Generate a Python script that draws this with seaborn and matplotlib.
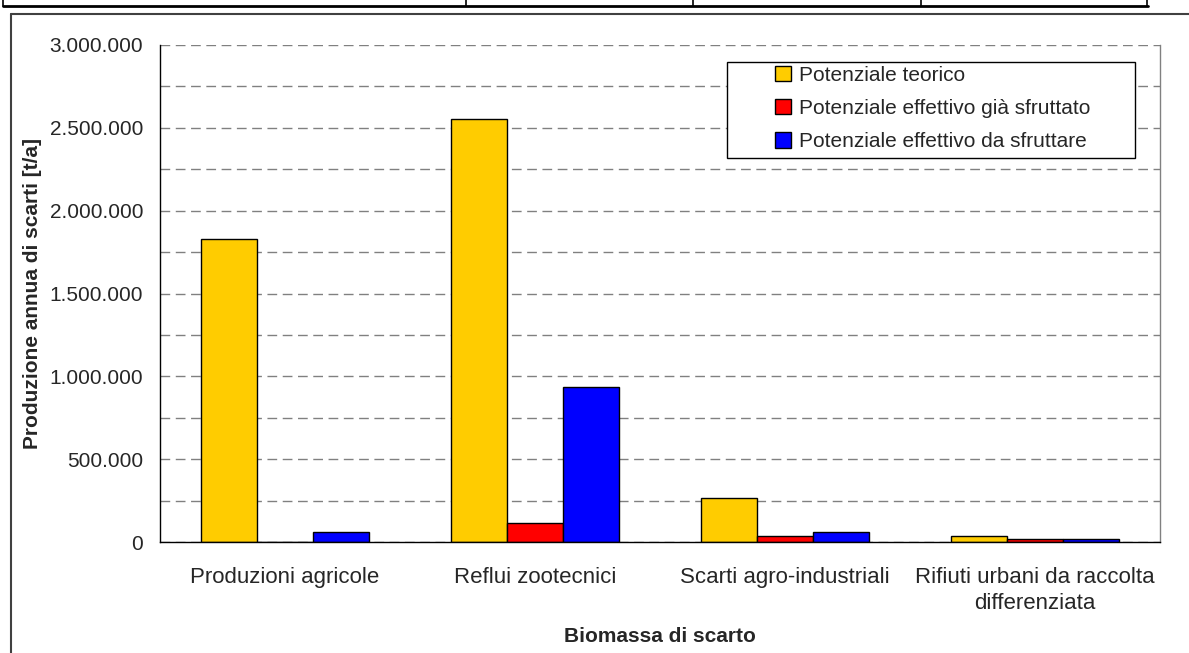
import pandas as pd
import matplotlib
matplotlib.use("Agg")
import matplotlib.pyplot as plt
import seaborn as sns
from matplotlib.lines import Line2D
from matplotlib.patches import Rectangle, Patch
from matplotlib.ticker import MultipleLocator, FuncFormatter

# Data
categorie = ["Produzioni agricole", "Reflui zootecnici",
             "Scarti agro-industriali", "Rifiuti urbani da raccolta\ndifferenziata"]
serie = ["Potenziale teorico", "Potenziale effettivo già sfruttato",
         "Potenziale effettivo da sfruttare"]
teorico = [1830000, 2555000, 267000, 34000]
gia_sfruttato = [0, 115000, 34000, 17000]
da_sfruttare = [58000, 935000, 58000, 17000]
colori = ["#FFCC00", "#FF0000", "#0000FF"]

df = pd.DataFrame({
    "Biomassa": categorie * 3,
    "Serie": [serie[0]] * 4 + [serie[1]] * 4 + [serie[2]] * 4,
    "Valore": teorico + gia_sfruttato + da_sfruttare,
})

sns.set_style("white")
plt.rcParams["font.family"] = ["Liberation Sans", "DejaVu Sans"]

W, H = 1189, 653
fig = plt.figure(figsize=(W / 100, H / 100), dpi=100)
ax = fig.add_axes([160 / W, (H - 542) / H, 1000 / W, 497 / H])

sns.barplot(data=df, x="Biomassa", y="Valore", hue="Serie", palette=colori,
            width=0.67, edgecolor="black", linewidth=1, saturation=1,
            legend=False, ax=ax)

# y axis
ax.set_ylim(0, 3000000)
ax.yaxis.set_major_locator(MultipleLocator(500000))
ax.yaxis.set_minor_locator(MultipleLocator(250000))
ax.yaxis.set_major_formatter(FuncFormatter(lambda v, p: f"{int(v):,}".replace(",", ".")))
ax.tick_params(axis="y", which="major", direction="out", length=5, width=1,
               color="black", labelsize=15, pad=7)
ax.tick_params(axis="y", which="minor", length=0)
ax.grid(axis="y", which="both", color="#808080", linestyle=(0, (7, 4)), linewidth=1)
ax.set_axisbelow(True)

# x axis: ticks between groups, labels at centres
ax.set_xlim(-0.5, 3.5)
ax.set_xticks([-0.5, 0.5, 1.5, 2.5, 3.5])
ax.set_xticklabels([])
ax.set_xticks(range(4), minor=True)
ax.set_xticklabels(categorie, minor=True, fontsize=16, linespacing=1.3)
ax.tick_params(axis="x", which="major", direction="out", length=5, width=1, color="black")
ax.tick_params(axis="x", which="minor", length=0, pad=18)

ax.set_xlabel("Biomassa di scarto", fontsize=15, fontweight="bold")
ax.set_ylabel("Produzione annua di scarti [t/a]", fontsize=15, fontweight="bold")
ax.xaxis.set_label_coords(0.5, -0.171)
ax.yaxis.set_label_coords(-0.118, 0.5)

ax.spines["top"].set_visible(False)
ax.spines["left"].set_color("black")
ax.spines["bottom"].set_color("black")
ax.spines["right"].set_color("#808080")
for s in ["left", "bottom", "right"]:
    ax.spines[s].set_linewidth(1)

# legend box + entries
ax.add_patch(Rectangle((0.567, 0.773), 0.408, 0.193, transform=ax.transAxes,
                       facecolor="white", edgecolor="black", linewidth=1, zorder=5))
handles = [Patch(facecolor=c, edgecolor="black", linewidth=1) for c in colori]
leg = ax.legend(handles, serie, loc="upper left", bbox_to_anchor=(0.615, 0.958),
                frameon=False, fontsize=15, handlelength=0.75, handleheight=0.75,
                handletextpad=0.4, labelspacing=0.68, borderpad=0, borderaxespad=0)
leg.set_zorder(6)

# outer frames (table row above + chart border)
def px_line(x0, y0, x1, y1, lw, color):
    fig.add_artist(Line2D([x0 / W, x1 / W], [1 - y0 / H, 1 - y1 / H],
                          transform=fig.transFigure, color=color, linewidth=lw))

px_line(3, 5.5, 1148, 5.5, 2, "black")
for xv in [3, 466, 693, 921, 1147]:
    px_line(xv, 0, xv, 6, 1.2, "black")
px_line(11, 14, W, 14, 1.5, "#404040")
px_line(11, 14, 11, H, 1.5, "#404040")

fig.savefig("out.png", dpi=100)
